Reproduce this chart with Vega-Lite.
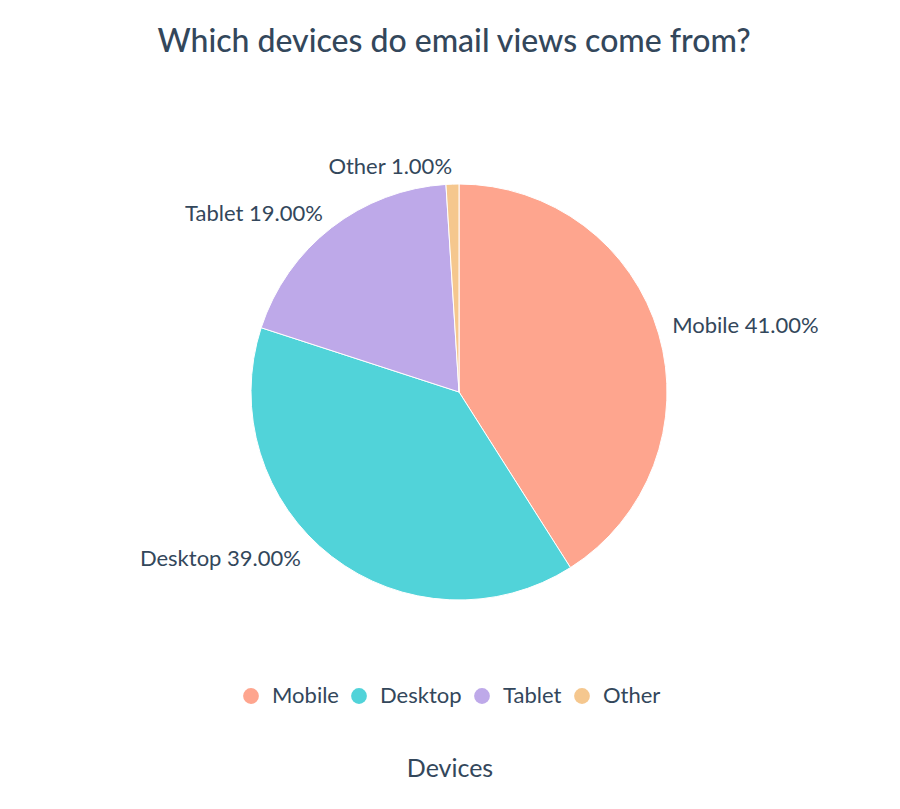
{
  "$schema": "https://vega.github.io/schema/vega-lite/v6.json",
  "width": 882,
  "height": 484,
  "padding": {"left": 18, "right": 0, "top": 26, "bottom": 10},
  "background": "white",
  "view": {"stroke": null},
  "title": {
    "text": "Which devices do email views come from?",
    "fontSize": 32,
    "font": "Lato",
    "fontWeight": 500,
    "color": "#33475b",
    "offset": 91,
    "anchor": "middle",
    "dx": -5
  },
  "data": {
    "values": [
      {"device": "Mobile", "share": 41, "rank": 1, "label": "Mobile 41.00%"},
      {"device": "Desktop", "share": 39, "rank": 2, "label": "Desktop 39.00%"},
      {"device": "Tablet", "share": 19, "rank": 3, "label": "Tablet 19.00%"},
      {"device": "Other", "share": 1, "rank": 4, "label": "Other 1.00%"}
    ]
  },
  "encoding": {
    "theta": {"field": "share", "type": "quantitative", "stack": true},
    "order": {"field": "rank", "type": "quantitative"}
  },
  "layer": [
    {
      "mark": {"type": "arc", "outerRadius": 208, "stroke": "white", "strokeWidth": 1},
      "encoding": {
        "color": {
          "field": "device",
          "type": "nominal",
          "sort": ["Mobile", "Desktop", "Tablet", "Other"],
          "scale": {
            "domain": ["Mobile", "Desktop", "Tablet", "Other"],
            "range": ["#fea58e", "#51d3d9", "#bea9e9", "#f5c78e"]
          },
          "legend": {
            "title": "Devices",
            "orient": "none",
            "legendX": 222,
            "legendY": 535,
            "direction": "horizontal",
            "symbolType": "circle",
            "symbolSize": 250,
            "symbolStrokeWidth": 0,
            "labelFont": "Lato",
            "labelFontSize": 22,
            "labelColor": "#33475b",
            "labelOffset": 10,
            "columnPadding": 9,
            "titleOrient": "bottom",
            "titleAnchor": "middle",
            "titleFont": "Lato",
            "titleFontSize": 25,
            "titleFontWeight": "normal",
            "titleColor": "#33475b",
            "titlePadding": 50
          }
        }
      }
    },
    {
      "mark": {"type": "text", "radius": 222, "align": "left", "baseline": "middle", "font": "Lato", "fontSize": 22, "color": "#33475b", "dy": -4},
      "encoding": {
        "detail": {"field": "device"},
        "text": {"field": "label"},
        "opacity": {"condition": {"test": "datum.device === 'Mobile'", "value": 1}, "value": 0}
      }
    },
    {
      "mark": {"type": "text", "radius": 222, "align": "right", "baseline": "middle", "font": "Lato", "fontSize": 22, "color": "#33475b", "dy": -3},
      "encoding": {
        "detail": {"field": "device"},
        "text": {"field": "label"},
        "opacity": {"condition": {"test": "datum.device === 'Tablet' || datum.device === 'Other'", "value": 1}, "value": 0}
      }
    },
    {
      "mark": {"type": "text", "radius": 222, "align": "right", "baseline": "middle", "font": "Lato", "fontSize": 22, "color": "#33475b", "dx": -22, "dy": -8},
      "encoding": {
        "detail": {"field": "device"},
        "text": {"field": "label"},
        "opacity": {"condition": {"test": "datum.device === 'Desktop'", "value": 1}, "value": 0}
      }
    }
  ]
}
